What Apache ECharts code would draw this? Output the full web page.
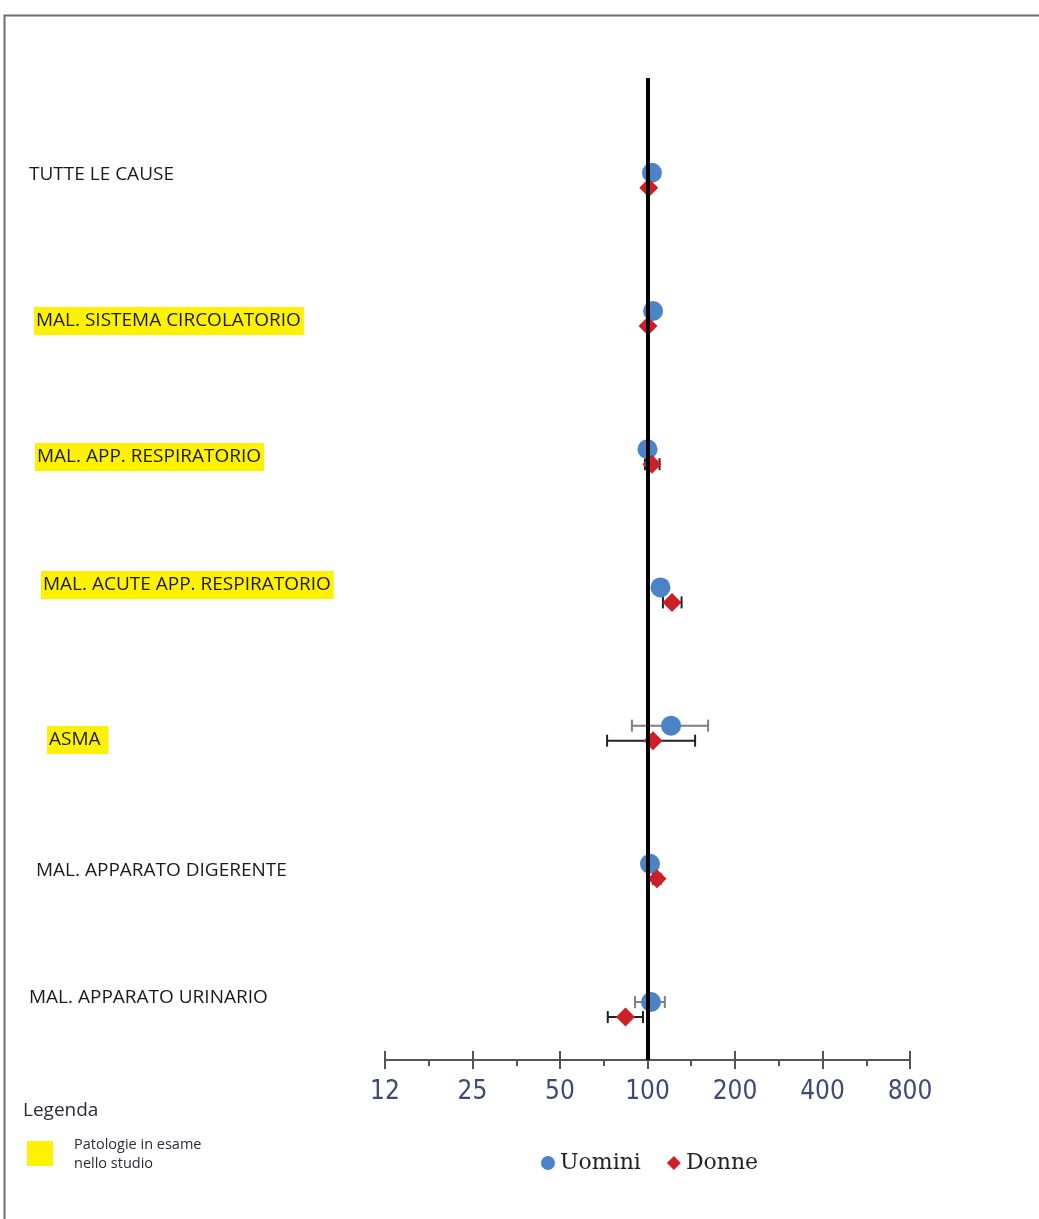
<!DOCTYPE html>
<html>
<head>
<meta charset="utf-8">
<title>Rapporti standardizzati di mortalità</title>
<script src="https://cdn.jsdelivr.net/npm/echarts@6/dist/echarts.min.js"></script>
<style>
  html, body { margin: 0; padding: 0; background: #fff; }
  #chart { width: 1039px; height: 1219px; }
</style>
</head>
<body>
<div id="chart"></div>
<script>
// Cause di morte, dall'alto verso il basso
const categories = [
  'TUTTE LE CAUSE',
  'MAL. SISTEMA CIRCOLATORIO',
  'MAL. APP. RESPIRATORIO',
  'MAL. ACUTE APP. RESPIRATORIO',
  'ASMA ',
  'MAL. APPARATO DIGERENTE',
  'MAL. APPARATO URINARIO'
];
// Patologie in esame nello studio (evidenziate in giallo)
const studied = [false, true, true, true, true, false, false];

// Uomini: stima e intervallo di confidenza
const uomini     = [103.6, 104.5, 100.0, 110.8, 120.5, 102.0, 102.8];
const uominiLow  = [101.5, 102.5,  98.0, 107.5,  88.4,  99.5,  90.6];
const uominiHigh = [105.5, 106.5, 102.0, 114.0, 161.6, 104.5, 114.7];

// Donne: stima e intervallo di confidenza
const donne      = [101.0, 100.4, 103.6, 121.4, 104.5, 107.8,  84.0];
const donneLow   = [ 99.0,  98.5,  98.0, 113.0,  72.6, 104.5,  73.0];
const donneHigh  = [103.0, 102.5, 110.0, 131.0, 145.8, 111.0,  96.5];

// Scala logaritmica dell'asse orizzontale
const tickValues = [12.5, 25, 50, 100, 200, 400, 800];
const tickLabels = ['12', '25', '50', '100', '200', '400', '800'];
const minorTickValues = [17.68, 35.36, 70.71, 141.42, 282.84, 565.69];
const referenceValue = 100;

// Posizione delle etichette di categoria (x sinistra, y centro)
const labelLayout = [
  [29, 176], [36, 321], [37, 457], [43, 585], [49, 740], [36, 872], [29, 999]
];

const chart = echarts.init(document.getElementById('chart'), null, { renderer: 'canvas' });

const ROW_OFFSET = 7.5;

function errorBarSeries(name, low, high, color, dy) {
  return {
    name: name + ' IC',
    type: 'custom',
    xAxisIndex: 0,
    yAxisIndex: 0,
    z: 2,
    silent: true,
    dimensions: ['low', 'high', 'row'],
    encode: { x: [0, 1], y: 2 },
    data: low.map((v, i) => [v, high[i], i]),
    renderItem: function (params, api) {
      const a = api.coord([api.value(0), api.value(2)]);
      const b = api.coord([api.value(1), api.value(2)]);
      const y = a[1] + dy;
      const cap = 6;
      const style = { stroke: color, lineWidth: 2 };
      return {
        type: 'group',
        children: [
          { type: 'line', shape: { x1: a[0], y1: y, x2: b[0], y2: y }, style: style },
          { type: 'line', shape: { x1: a[0], y1: y - cap, x2: a[0], y2: y + cap }, style: style },
          { type: 'line', shape: { x1: b[0], y1: y - cap, x2: b[0], y2: y + cap }, style: style }
        ]
      };
    }
  };
}

const labelFont = '"Open Sans", "Noto Sans", sans-serif';

const graphics = [
  // cornice
  {
    type: 'polyline',
    silent: true,
    shape: { points: [[4.5, 1219], [4.5, 15.5], [1039, 15.5]] },
    style: { stroke: '#6e6e6e', lineWidth: 2, fill: null }
  }
];

categories.forEach((name, i) => {
  graphics.push({
    type: 'text',
    left: labelLayout[i][0] - (studied[i] ? 2 : 0),
    top: labelLayout[i][1] - 14,
    style: {
      text: name,
      font: '19px ' + labelFont,
      fill: '#1b1b1b',
      backgroundColor: studied[i] ? '#fff200' : 'transparent',
      padding: studied[i] ? [1, 3, 1, 2] : 0,
      lineHeight: 26
    }
  });
});

// Legenda delle patologie evidenziate
graphics.push(
  { type: 'text', left: 23, top: 1101, style: { text: 'Legenda', font: '19px ' + labelFont, fill: '#2a2a3a' } },
  { type: 'rect', shape: { x: 27, y: 1141, width: 26, height: 25 }, style: { fill: '#fff200' } },
  { type: 'text', left: 74, top: 1135, style: { text: 'Patologie in esame\nnello studio', font: '14.5px ' + labelFont, fill: '#2a2a3a', lineHeight: 19 } }
);

const baseXAxis = {
  type: 'log',
  logBase: 2,
  min: 12.5,
  max: 800,
  gridIndex: 0,
  position: 'bottom',
  splitLine: { show: false },
  minorSplitLine: { show: false }
};

const option = {
  backgroundColor: '#ffffff',
  animation: false,
  grid: { left: 385, right: 129, top: 78, bottom: 159, containLabel: false },
  xAxis: [
    Object.assign({}, baseXAxis, {
      axisLine: { show: true, onZero: false, lineStyle: { color: '#555', width: 2 } },
      axisTick: { show: true, inside: false, length: 9, customValues: tickValues, lineStyle: { color: '#555', width: 2 } },
      axisLabel: {
        show: true,
        customValues: tickValues,
        margin: 19,
        fontFamily: '"Liberation Sans Narrow", "Arial Narrow", "DejaVu Sans Condensed", sans-serif',
        fontSize: 26,
        color: '#3e4a78',
        formatter: function (v) {
          let best = 0;
          tickValues.forEach((t, k) => { if (Math.abs(t - v) < Math.abs(tickValues[best] - v)) best = k; });
          return tickLabels[best];
        }
      }
    }),
    Object.assign({}, baseXAxis, {
      axisLine: { show: false, onZero: false },
      axisTick: { show: true, inside: true, length: 9, customValues: tickValues, lineStyle: { color: '#555', width: 2 } },
      axisLabel: { show: false }
    }),
    Object.assign({}, baseXAxis, {
      axisLine: { show: false, onZero: false },
      axisTick: { show: true, inside: false, length: 6, customValues: minorTickValues, lineStyle: { color: '#555', width: 2 } },
      axisLabel: { show: false }
    })
  ],
  yAxis: {
    type: 'value',
    inverse: true,
    min: -0.74,
    max: 6.365,
    show: false
  },
  legend: {
    data: [
      { name: 'Uomini', icon: 'circle' },
      { name: 'Donne', icon: 'diamond' }
    ],
    left: 536,
    top: 1147,
    itemWidth: 14,
    itemHeight: 14,
    itemGap: 26,
    textStyle: { fontFamily: '"DejaVu Serif", "Liberation Serif", serif', fontSize: 22, color: '#222' }
  },
  graphic: graphics,
  series: [
    errorBarSeries('Uomini', uominiLow, uominiHigh, '#7f7f7f', -ROW_OFFSET),
    errorBarSeries('Donne', donneLow, donneHigh, '#222222', ROW_OFFSET),
    {
      name: 'Uomini',
      type: 'scatter',
      z: 3,
      symbol: 'circle',
      symbolSize: 20,
      symbolOffset: [0, -ROW_OFFSET],
      itemStyle: { color: '#4a84c6', opacity: 1 },
      data: uomini.map((v, i) => [v, i])
    },
    {
      name: 'Donne',
      type: 'scatter',
      z: 4,
      symbol: 'diamond',
      symbolSize: [19, 19],
      symbolOffset: [0, ROW_OFFSET],
      itemStyle: { color: '#cc1f26', opacity: 1 },
      data: donne.map((v, i) => [v, i])
    },
    {
      name: 'Riferimento',
      type: 'line',
      z: 6,
      data: [],
      markLine: {
        silent: true,
        symbol: 'none',
        label: { show: false },
        lineStyle: { color: '#000', width: 4, type: 'solid' },
        data: [{ xAxis: referenceValue }]
      }
    }
  ]
};

chart.setOption(option);
</script>
</body>
</html>
